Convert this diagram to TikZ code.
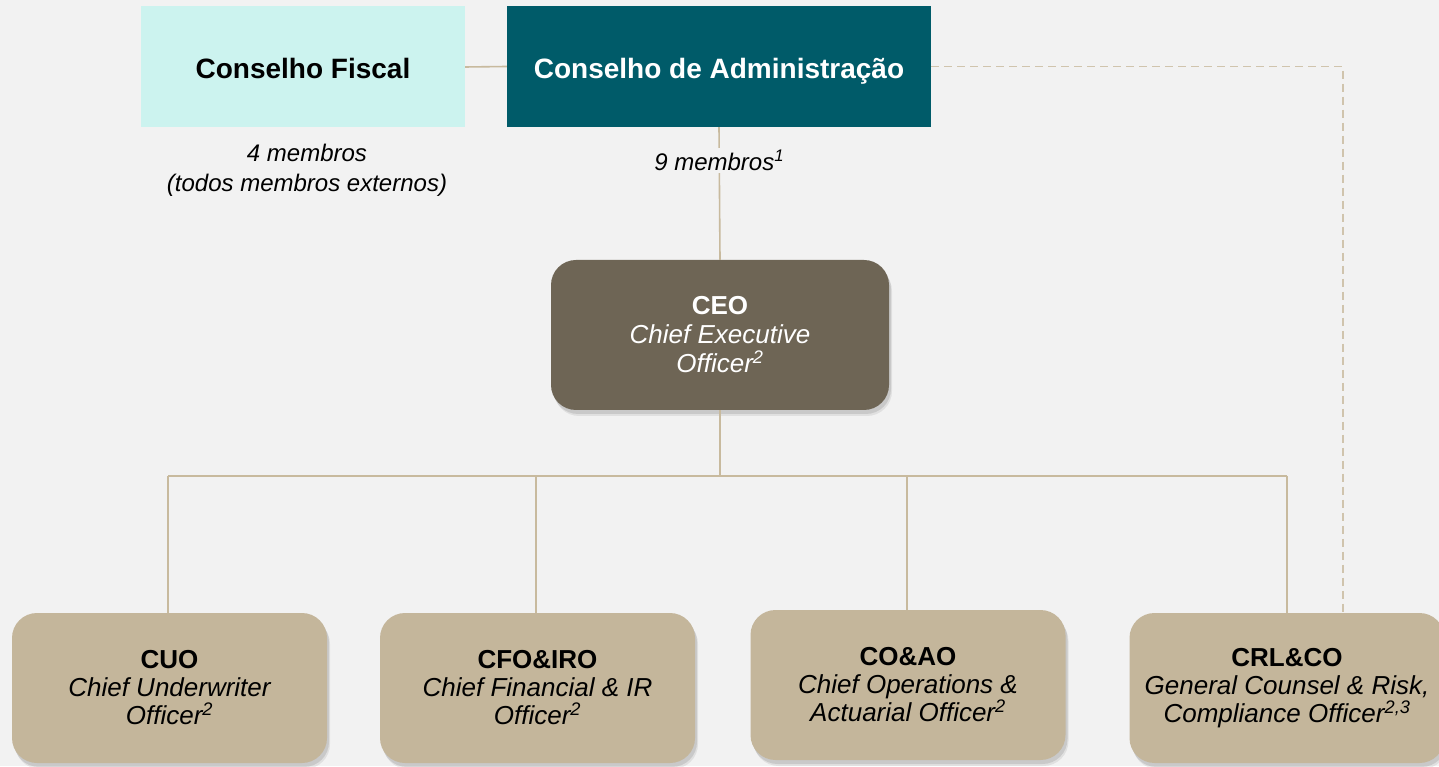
\documentclass[tikz,border=0pt]{standalone}
\usepackage{fontspec}
\setmainfont{Liberation Sans}
\usetikzlibrary{shadows}
\definecolor{bg}{HTML}{F2F2F2}
\definecolor{fiscal}{HTML}{CCF3EF}
\definecolor{admin}{HTML}{005B69}
\definecolor{ceofill}{HTML}{6E6555}
\definecolor{execfill}{HTML}{C4B69B}
\definecolor{linecol}{HTML}{C8BA9E}
\newcommand{\headtxt}[1]{{\upshape\bfseries #1}}
\tikzset{
  board/.style={minimum height=121pt, inner sep=0pt, text height=24pt, text depth=0pt, font=\fontsize{28}{32}\selectfont\bfseries},
  fiscalbox/.style={board, fill=fiscal, minimum width=324pt, text=black},
  adminbox/.style={board, fill=admin, minimum width=424pt, text=white},
  note/.style={align=center, inner sep=2pt, font=\fontsize{24}{30}\selectfont\itshape, text=black},
  softshadow/.style={drop shadow={shadow xshift=2pt, shadow yshift=-4pt, opacity=0.10, fill=black},
                     drop shadow={shadow xshift=3pt, shadow yshift=-6pt, opacity=0.07, fill=black}},
  ceobox/.style={softshadow, fill=ceofill, rounded corners=25pt, minimum width=338pt, minimum height=150pt,
                 align=center, inner sep=0pt, text=white, font=\fontsize{26}{29}\selectfont\itshape},
  execbox/.style={softshadow, fill=execfill, rounded corners=25pt, minimum width=315pt, minimum height=150pt,
                 align=center, inner sep=0pt, text=black, font=\fontsize{26}{28}\selectfont\itshape},
  conn/.style={draw=linecol, line width=1.6pt},
  dashconn/.style={draw=linecol!85!white, line width=1.6pt, dash pattern=on 8pt off 5pt}
}
\begin{document}
\begin{tikzpicture}[x=1pt,y=1pt]
\fill[bg] (0,0) rectangle (1439,766);
\useasboundingbox (0,0) rectangle (1439,766);

% boards
\node[fiscalbox] (cf) at (303,699) {Conselho Fiscal};
\node[adminbox] (ca) at (719,699.5) {Conselho de Administração};
\node[note] (cfn) at (307,596) {4 membros\\(todos membros externos)};

% CEO
\node[ceobox] (ceo) at (720,431) {\headtxt{CEO}\\Chief Executive\\Officer\textsuperscript{2}};

% executives
\node[execbox] (cuo) at (169.5,78) {\headtxt{CUO}\\Chief Underwriter\\Officer\textsuperscript{2}};
\node[execbox] (cfo) at (537.5,78) {\headtxt{CFO\&IRO}\\Chief Financial \& IR\\Officer\textsuperscript{2}};
\node[execbox] (coao) at (908,81) {\headtxt{CO\&AO}\\Chief Operations \&\\Actuarial Officer\textsuperscript{2}};
\node[execbox] (crl) at (1287,78) {\headtxt{CRL\&CO}\\General Counsel \& Risk,\\Compliance Officer\textsuperscript{2,3}};

% connectors
\coordinate (bar) at (720,290);
\draw[conn] (cf.east) -- (ca.west);
\draw[conn] (ca.south) -- node[pos=0.25, fill=bg, note] (cam) {9 membros\textsuperscript{1}} (ceo.north);
\draw[conn] (ceo.south) -- (bar);
\draw[conn] ([xshift=-1.5pt]cuo.north |- bar) -- (crl.north |- bar);
\draw[conn] ([xshift=-1.5pt]cuo.north |- bar) -- ([xshift=-1.5pt]cuo.north);
\draw[conn] ([xshift=-1.5pt]cfo.north |- bar) -- ([xshift=-1.5pt]cfo.north);
\draw[conn] ([xshift=-1pt]coao.north |- bar) -- ([xshift=-1pt]coao.north);
\draw[conn] (crl.north |- bar) -- (crl.north);
\draw[dashconn] (ca.east) -| ([xshift=56pt]crl.north);
\end{tikzpicture}
\end{document}
